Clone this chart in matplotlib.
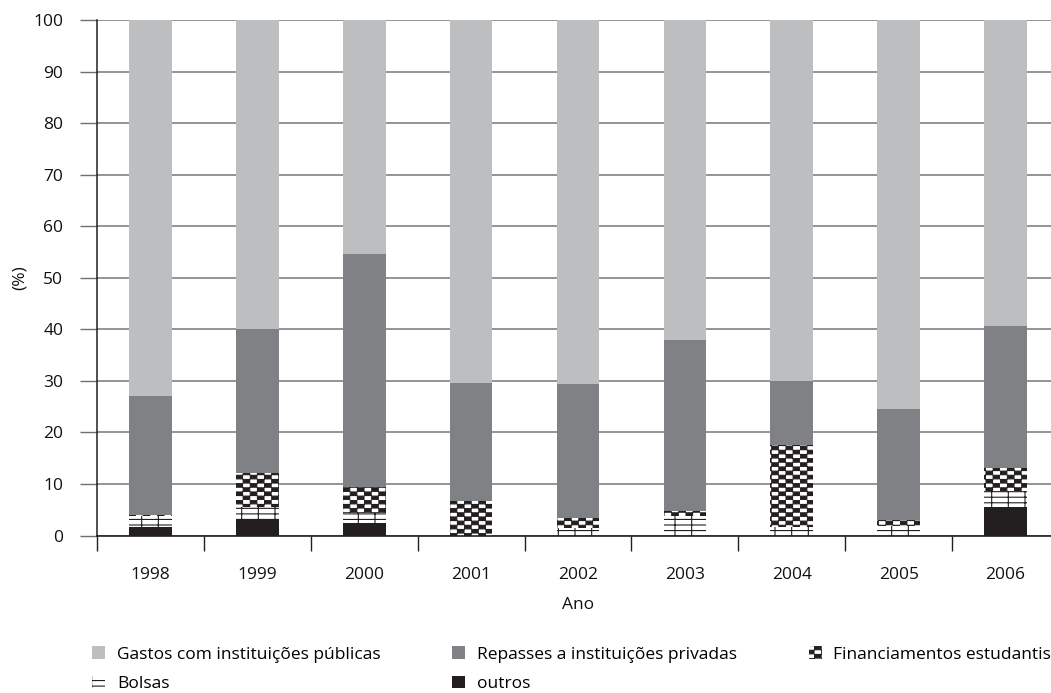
import numpy as np
import matplotlib
matplotlib.use("Agg")
import matplotlib.pyplot as plt
import matplotlib.hatch as mhatch
from matplotlib.path import Path
from matplotlib.patches import Patch

# ---------------- data ----------------
anos = ["1998", "1999", "2000", "2001", "2002", "2003", "2004", "2005", "2006"]
outros = [1.7, 3.2, 2.4, 0.0, 0.0, 0.0, 0.0, 0.0, 5.5]
bolsas = [2.0, 2.3, 2.0, 0.0, 1.4, 3.7, 1.7, 1.8, 3.1]
financiamentos = [0.3, 6.6, 5.1, 6.7, 1.9, 1.1, 15.9, 1.2, 4.4]
repasses = [23.0, 28.0, 45.2, 22.9, 26.1, 33.2, 12.4, 21.6, 27.6]
gastos = [73.0, 59.9, 45.3, 70.4, 70.6, 62.0, 70.0, 75.4, 59.4]
yticks = [0, 10, 20, 30, 40, 50, 60, 70, 80, 90, 100]

# ---------------- custom checkerboard hatch ----------------
class CheckerHatch(mhatch.HatchPatternBase):
    nx, ny = 14, 24

    def __init__(self, hatch, density):
        on = hatch.count('c') > 0
        self.ncells = (self.nx * self.ny) // 2 if on else 0
        self.num_vertices = self.ncells * 5

    def set_vertices_and_codes(self, vertices, codes):
        dx, dy = 1.0 / self.nx, 1.0 / self.ny
        s = 0.003
        k = 0
        for j in range(self.ny):
            for i in range(self.nx):
                if (i + j) % 2:
                    continue
                x0, y0 = i * dx + s, j * dy + s
                x1, y1 = (i + 1) * dx - s, (j + 1) * dy - s
                vertices[k:k + 5] = [(x0, y0), (x1, y0), (x1, y1), (x0, y1), (x0, y0)]
                codes[k:k + 5] = [Path.MOVETO, Path.LINETO, Path.LINETO,
                                  Path.LINETO, Path.CLOSEPOLY]
                k += 5


mhatch._hatch_types.append(CheckerHatch)
mhatch._validate_hatch_pattern = lambda h: None

plt.rcParams['font.family'] = ['Open Sans', 'DejaVu Sans']
plt.rcParams['hatch.linewidth'] = 0.8

C_GASTOS = '#bdbec0'
C_REP = '#808184'
C_OUT = '#231f20'
TXT = '#111111'
FS = 12.5

fig = plt.figure(figsize=(10.51, 6.93), dpi=100)
W, H = 1051, 693
ax = fig.add_axes([97 / W, 157.5 / H, 962 / W, 515.5 / H])

x = np.arange(len(anos))
bw = 0.40
bottom = np.zeros(len(anos))

ax.bar(x, outros, bw, bottom=bottom, color=C_OUT, linewidth=0, zorder=3)
bottom += np.array(outros)
ax.bar(x, bolsas, bw, bottom=bottom, facecolor='white', edgecolor='#231f20',
       hatch='---|', linewidth=0, zorder=3)
bottom += np.array(bolsas)
ax.bar(x, financiamentos, bw, bottom=bottom, facecolor='white', edgecolor='#231f20',
       hatch='c', linewidth=0, zorder=3)
bottom += np.array(financiamentos)
ax.bar(x, repasses, bw, bottom=bottom, color=C_REP, linewidth=0, zorder=3)
bottom += np.array(repasses)
ax.bar(x, gastos, bw, bottom=bottom, color=C_GASTOS, linewidth=0, zorder=3)

ax.set_xlim(-0.5, len(anos) - 0.5)
ax.set_ylim(0, 100)

# y axis
ax.set_yticks(yticks)
ax.tick_params(axis='y', length=12.3, width=1.0, color='#6d6e71', pad=12,
               labelsize=FS, labelcolor=TXT)
ax.yaxis.grid(True, color='#8a8b8d', linewidth=1.3, zorder=0)
ax.set_axisbelow(True)

# x axis: boundaries as major ticks, labels at category centers as minor ticks
ax.set_xticks(np.arange(len(anos) + 1) - 0.5)
ax.set_xticklabels([])
ax.tick_params(axis='x', which='major', length=11, width=1.0, color='#231f20')
ax.set_xticks(x, minor=True)
ax.set_xticklabels(anos, minor=True)
ax.tick_params(axis='x', which='minor', length=0, pad=23, labelsize=FS,
               labelcolor=TXT)

for s in ['top', 'right']:
    ax.spines[s].set_visible(False)
ax.spines['left'].set_color('#231f20')
ax.spines['left'].set_linewidth(1.1)
ax.spines['bottom'].set_color('#231f20')
ax.spines['bottom'].set_linewidth(1.2)
ax.spines['bottom'].set_zorder(4)

ax.set_xlabel('Ano', fontsize=FS, color=TXT, labelpad=10)
ax.set_ylabel('(%)', fontsize=FS, color=TXT, labelpad=4)

# legend
handles = [
    Patch(facecolor=C_GASTOS, linewidth=0),
    Patch(facecolor='white', edgecolor='#231f20', hatch='---|', linewidth=0),
    Patch(facecolor=C_REP, linewidth=0),
    Patch(facecolor=C_OUT, linewidth=0),
    Patch(facecolor='white', edgecolor='#231f20', hatch='c', linewidth=0),
]
labels = ['Gastos com instituições públicas', 'Bolsas',
          'Repasses a instituições privadas', 'outros',
          'Financiamentos estudantis']
fig.legend(handles, labels, ncol=3, loc='upper left',
           bbox_to_anchor=(89 / W, 1 - 643 / H), frameon=False,
           fontsize=FS, handlelength=0.75, handleheight=0.7,
           handletextpad=0.65, columnspacing=4.15, labelspacing=0.75,
           borderpad=0.2, borderaxespad=0)

fig.savefig('out.png', dpi=100)
